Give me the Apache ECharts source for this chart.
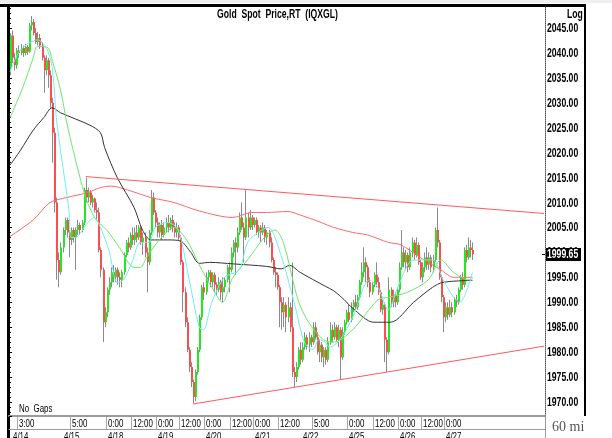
<!DOCTYPE html>
<html>
<head>
<meta charset="utf-8">
<script src="https://cdn.jsdelivr.net/npm/echarts@6/dist/echarts.min.js"></script>
<style>
  html, body { margin: 0; padding: 0; background: #fff; }
  #main { width: 612px; height: 438px; }
</style>
</head>
<body>
<div id="main"></div>
<script>
// 60 minute candles, one per slot: [open, close, low, high]
var candles = [
  [2037.0,2043.5,2035.5,2044.0],[2043.5,2039.0,2038.0,2044.5],[2039.0,2037.5,2036.5,2040.0],[2037.5,2040.5,2036.8,2041.0],
  [2040.5,2040.0,2039.0,2041.5],[2040.0,2041.0,2039.5,2041.8],[2041.0,2040.0,2039.2,2041.5],[2040.0,2041.2,2039.5,2041.8],
  [2041.2,2040.3,2039.6,2041.6],[2040.3,2045.5,2040.0,2046.0],[2045.5,2046.2,2044.5,2047.4],[2046.2,2044.0,2043.5,2046.8],
  [2044.0,2042.2,2041.8,2045.0],[2042.2,2043.0,2041.5,2044.2],[2043.0,2041.5,2040.8,2043.8],[2041.5,2039.0,2038.5,2042.2],
  [2039.0,2036.5,2032.0,2039.5],[2036.5,2038.5,2035.5,2039.5],[2038.5,2035.5,2033.0,2039.0],[2035.5,2030.0,2029.0,2036.5],
  [2030.0,2024.0,2018.0,2031.0],[2024.0,2010.0,2008.0,2025.0],[2010.0,1998.5,1994.5,2011.0],[1998.5,1996.0,1993.0,2000.0],
  [1996.0,2001.0,1995.5,2002.0],[2001.0,2004.5,2000.0,2005.0],[2004.5,2006.5,2003.5,2007.0],[2006.5,2004.0,2003.0,2007.0],
  [2004.0,2002.5,1999.0,2004.5],[2002.5,2004.5,2001.5,2005.0],[2004.5,2003.0,2002.0,2005.0],[2003.0,2004.5,1996.5,2005.0],
  [2004.5,2005.5,2003.5,2006.5],[2005.5,2004.5,2003.5,2006.0],[2004.5,2006.0,2004.0,2006.5],[2006.0,2012.5,2005.5,2013.0],
  [2012.5,2011.0,2010.0,2015.0],[2011.0,2012.0,2010.0,2013.0],[2012.0,2010.0,2009.5,2012.5],[2010.0,2010.8,2009.0,2011.5],
  [2010.8,2008.5,2008.0,2011.0],[2008.5,2008.0,2006.5,2010.0],[2008.0,2000.5,2000.0,2009.0],[2000.5,1996.5,1995.0,2001.0],
  [1996.5,1986.0,1982.0,1997.0],[1986.0,1988.0,1985.0,1989.0],[1988.0,1992.5,1987.0,1993.0],[1992.5,1994.0,1991.5,1995.0],
  [1994.0,1996.0,1993.0,1997.0],[1996.0,1995.0,1994.0,1997.5],[1995.0,1996.5,1994.0,1997.0],[1996.5,1995.0,1993.5,1997.0],
  [1995.0,1994.5,1993.0,1996.0],[1994.5,1996.0,1993.0,1996.5],[1996.0,1999.5,1995.5,2000.0],[1999.5,2002.0,1999.0,2002.5],
  [2002.0,2001.0,2000.0,2003.0],[2001.0,2003.5,2000.5,2004.0],[2003.5,2002.5,2001.5,2005.0],[2002.5,2004.0,2001.5,2005.0],
  [2004.0,2003.0,2002.0,2005.5],[2003.0,2005.0,2002.5,2005.5],[2005.0,2002.0,2001.5,2005.5],[2002.0,2003.0,1999.5,2004.0],
  [2003.0,2000.0,1999.0,2004.0],[2000.0,1998.0,1992.0,2001.0],[1998.0,2004.0,1997.5,2004.5],[2004.0,2011.0,2003.5,2012.5],
  [2011.0,2008.0,2007.5,2012.0],[2008.0,2006.0,2005.0,2008.5],[2006.0,2004.0,2003.0,2007.0],[2004.0,2005.5,2003.0,2006.0],
  [2005.5,2003.5,2002.5,2006.5],[2003.5,2005.0,2003.0,2006.0],[2005.0,2006.0,2004.0,2007.0],[2006.0,2005.0,2004.0,2007.5],
  [2005.0,2006.5,2004.5,2007.0],[2006.5,2005.0,2004.0,2007.5],[2005.0,2004.0,2003.0,2006.0],[2004.0,2005.0,2003.0,2006.0],
  [2005.0,2003.0,2002.5,2005.5],[2003.0,1998.0,1997.5,2003.5],[1998.0,1992.0,1988.0,1998.5],[1992.0,1986.0,1985.0,1993.0],
  [1986.0,1980.5,1980.0,1987.0],[1980.5,1977.0,1976.0,1981.0],[1977.0,1974.0,1973.0,1978.0],[1974.0,1971.0,1969.8,1974.5],
  [1971.0,1976.0,1970.2,1976.5],[1976.0,1980.5,1975.5,1981.0],[1980.5,1987.0,1980.0,1987.5],[1987.0,1993.0,1986.5,1993.5],
  [1993.0,1992.0,1990.5,1994.0],[1992.0,1995.0,1991.5,1996.0],[1995.0,1996.0,1994.0,1996.5],[1996.0,1994.0,1993.0,1996.5],
  [1994.0,1995.5,1993.0,1996.0],[1995.5,1993.5,1992.0,1996.0],[1993.5,1992.5,1991.5,1994.0],[1992.5,1994.0,1992.0,1995.0],
  [1994.0,1992.0,1990.5,1994.5],[1992.0,1993.0,1990.0,1995.0],[1993.0,1994.5,1992.0,1995.0],[1994.5,1997.0,1994.0,1997.5],
  [1997.0,1996.5,1992.0,1998.0],[1996.5,2000.0,1996.0,2001.0],[2000.0,2002.0,1999.0,2002.5],[2002.0,2001.0,1995.5,2003.0],
  [2001.0,2004.0,2000.0,2005.0],[2004.0,2007.0,2003.5,2008.0],[2007.0,2005.0,2004.5,2010.0],[2005.0,2003.0,1998.0,2006.0],
  [2003.0,2007.0,2002.5,2012.5],[2007.0,2005.0,2003.0,2008.0],[2005.0,2007.0,2004.5,2008.5],[2007.0,2005.5,2004.5,2007.5],
  [2005.5,2006.5,2005.0,2007.0],[2006.5,2004.0,2003.5,2007.0],[2004.0,2005.0,2003.0,2005.5],[2005.0,2004.0,2002.0,2005.5],
  [2004.0,2005.0,2003.5,2006.0],[2005.0,2003.0,2002.0,2005.5],[2003.0,2004.0,2001.5,2004.5],[2004.0,2002.0,2001.0,2004.5],
  [2002.0,1998.5,1998.0,2003.0],[1998.5,1996.0,1995.5,1999.0],[1996.0,1995.5,1993.0,1997.0],[1995.5,1993.0,1992.5,1996.0],
  [1993.0,1990.0,1985.0,1993.5],[1990.0,1988.0,1984.5,1991.0],[1988.0,1989.5,1985.0,1991.0],[1989.5,1987.0,1984.0,1990.0],
  [1987.0,1989.0,1986.0,1991.0],[1989.0,1985.0,1984.0,1990.0],[1985.0,1976.0,1975.0,1998.0],[1976.0,1975.0,1973.0,1977.0],
  [1975.0,1977.0,1974.0,1978.0],[1977.0,1980.5,1976.5,1981.0],[1980.5,1978.5,1977.5,1982.0],[1978.5,1981.0,1978.0,1982.0],
  [1981.0,1983.0,1980.5,1984.0],[1983.0,1981.5,1980.5,1983.5],[1981.5,1983.0,1980.0,1984.0],[1983.0,1982.0,1981.0,1983.5],
  [1982.0,1985.0,1981.5,1986.0],[1985.0,1983.0,1982.5,1986.0],[1983.0,1980.0,1979.5,1984.0],[1980.0,1981.5,1978.0,1982.5],
  [1981.5,1979.0,1978.0,1982.0],[1979.0,1980.5,1977.0,1981.0],[1980.5,1978.5,1977.5,1981.0],[1978.5,1982.0,1978.0,1983.0],
  [1982.0,1984.5,1981.5,1986.0],[1984.5,1983.0,1982.0,1985.5],[1983.0,1985.0,1982.5,1986.0],[1985.0,1982.5,1982.0,1985.5],
  [1982.5,1984.5,1981.0,1985.5],[1984.5,1979.0,1974.5,1985.0],[1979.0,1984.0,1978.5,1985.0],[1984.0,1986.0,1983.5,1986.5],
  [1986.0,1988.0,1985.5,1988.5],[1988.0,1986.5,1986.0,1989.5],[1986.5,1989.0,1986.0,1990.0],[1989.0,1990.0,1988.0,1990.5],
  [1990.0,1989.0,1988.5,1991.5],[1989.0,1991.0,1988.5,1991.5],[1991.0,1994.0,1990.5,1994.5],[1994.0,1996.0,1993.5,1998.0],
  [1996.0,1998.0,1995.0,2001.0],[1998.0,1997.0,1994.0,1999.0],[1997.0,1994.0,1993.0,1997.5],[1994.0,1992.0,1991.0,1995.0],
  [1992.0,1993.5,1991.5,1994.0],[1993.5,1995.5,1993.0,1996.0],[1995.5,1994.0,1993.0,1998.0],[1994.0,1992.0,1991.5,1995.0],
  [1992.0,1988.5,1988.0,1992.5],[1988.5,1989.5,1987.5,1990.5],[1989.5,1982.5,1978.0,1990.0],[1982.5,1980.0,1976.0,1983.0],
  [1980.0,1992.5,1979.5,1995.0],[1992.5,1990.0,1989.0,1993.0],[1990.0,1991.5,1989.0,1992.5],[1991.5,1990.0,1989.0,1992.0],
  [1990.0,1992.5,1989.5,1993.0],[1992.5,1997.0,1992.0,1998.0],[1997.0,2000.0,1996.5,2004.5],[2000.0,1998.0,1997.0,2001.0],
  [1998.0,1999.5,1996.5,2000.5],[1999.5,1997.0,1996.0,2000.0],[1997.0,2000.0,1996.5,2001.0],[2000.0,2002.0,1999.0,2003.0],
  [2002.0,1999.5,1998.5,2002.5],[1999.5,2001.5,1999.0,2003.0],[2001.5,1998.0,1997.5,2002.0],[1998.0,1995.0,1994.5,1998.5],
  [1995.0,1997.0,1994.0,1998.0],[1997.0,1999.0,1996.0,2000.0],[1999.0,1997.5,1996.5,2001.0],[1997.5,1999.0,1996.5,2000.0],
  [1999.0,1997.0,1996.0,1999.5],[1997.0,1998.5,1996.0,1999.5],[1998.5,2004.5,1998.0,2005.0],[2004.5,2002.0,2001.0,2009.0],
  [2002.0,1995.0,1994.5,2002.5],[1995.0,1991.0,1990.0,1995.5],[1991.0,1987.0,1984.0,1991.5],[1987.0,1989.0,1986.0,1990.0],
  [1989.0,1987.5,1986.5,1990.0],[1987.5,1989.0,1987.0,1990.5],[1989.0,1988.0,1987.0,1990.0],[1988.0,1990.5,1987.5,1991.0],
  [1990.5,1990.0,1989.0,1991.5],[1990.0,1992.5,1989.5,1993.0],[1992.5,1995.0,1992.0,1995.5],[1995.0,1993.5,1992.5,1996.0],
  [1993.5,2000.5,1993.0,2001.0],[2000.5,1999.0,1998.0,2001.5],[1999.0,2001.0,1998.5,2003.0],[2001.0,2000.5,1999.0,2002.5],
  [2000.5,1999.65,1998.5,2002.0]
];

// moving averages: [slot, value]
var maFast = [[0,2036.2],[5,2040.6],[13,2042.6],[17,2041.2],[20,2037.2],[22,2027],[24,2020.5],[28,2008.5],[29,2003],
  [31,2003],[37,2006],[40,2007],[42,2006],[47,2000.5],[51,1994],[54,1994.5],[58,1998],[62,2002],[66,2002],[69,2005],
  [75,2006],[80,2004.5],[85,1995],[90,1985],[92,1984.5],[96,1990],[102,1995],[109,1996.5],[113,2002],[118,2004],
  [123,2005],[126,2003],[131,1996.5],[136,1988.5],[140,1982],[144,1980.5],[147,1982.5],[150,1982],[152,1981],
  [157,1982.5],[163,1987],[171,1994.5],[175,1993],[180,1988.5],[184,1992.5],[190,1998],[195,1998.5],[201,1998.5],
  [206,1994.5],[211,1991],[214,1990],[220,1996]];
var maGreen = [[0,2027],[6,2033],[11,2039],[13,2041.3],[18,2041],[20,2038.6],[24,2032.6],[27,2026],[30,2020.5],
  [36,2011],[41,2006.5],[46,2004.5],[52,2001],[59,1997],[62,1997],[65,1999],[71,2002.5],[78,2005],[84,2002.5],
  [90,1997.5],[96,1993],[101,1990],[106,1995],[113,1998.5],[121,2003],[126,2004.5],[130,2002],[137,1990.5],
  [142,1986],[149,1982.5],[154,1982],[163,1984.5],[175,1990.5],[180,1991],[189,1992],[199,1994.5],[205,1998.5],
  [211,1996],[218,1994.5],[220,1994.7]];
var maBlack = [[0,2017.5],[5,2020.5],[11,2024.5],[16,2027],[20,2029],[24,2028],[38,2025.5],[43,2024],[45,2021],
  [51,2015],[59,2009],[63,2004.5],[67,2002.5],[75,2002.5],[81,2002.3],[86,2000],[90,1997.8],[95,1998],[106,1997.7],
  [122,1997.2],[129,1996.7],[133,1997.4],[138,1996],[150,1993.2],[154,1992.3],[159,1990.5],[163,1988.8],[173,1986],
  [181,1986],[192,1990],[201,1993],[206,1994],[220,1994.4]];
var maRed = [[0,2003.2],[11,2006.5],[19,2010],[27,2011],[37,2012],[43,2013],[48,2013.3],[56,2012.5],[67,2011],
  [78,2010],[90,2008.3],[106,2007],[115,2008],[122,2008],[132,2008.2],[138,2007.5],[148,2006],[154,2005],
  [163,2004],[170,2003.5],[180,2002],[186,2001.5],[195,1999],[205,1996.5],[211,1995],[220,1995]];

// trend lines
var upperTrend = [[36,2015.2],[254,2007.8]];
var lowerTrend = [[87,1969.6],[254,1981.2]];

// axes: slots, tick labels
var slotCount = 255;
var priceTicks = [1970,1975,1980,1985,1990,1995,2000,2005,2010,2015,2020,2025,2030,2035,2040,2045];
var timeTicks = [[4,'3:00'],[29,'5:00'],[46,'0:00'],[58,'12:00'],[70,'0:00'],[81,'12:00'],[93,'0:00'],[105,'12:00'],
  [116,'0:00'],[128,'12:00'],[144,'5:00'],[161,'0:00'],[173,'12:00'],[185,'0:00'],[196,'12:00'],[207,'0:00']];
var dateTicks = [[1,'4/14'],[25,'4/15'],[46,'4/18'],[70,'4/19'],[93,'4/20'],[116,'4/21'],[139,'4/22'],[161,'4/25'],
  [185,'4/26'],[207,'4/27']];
var priceMin = 1967.2, priceMax = 2049.4;

// no narrow font installed: squeeze Liberation Sans horizontally
var SANS = '"Liberation Sans", Arial, sans-serif';
var SQUEEZE = 0.72;

var categories = [];
for (var k = 0; k < slotCount; k++) categories.push(k);

var candleData = candles.map(function (c, i) { return [i, c[0], c[1], c[2], c[3]]; });
var lastClose = candles[candles.length - 1][1];

function narrowText(x, y, text, font, fill, vAlign) {
  return { type: 'text', x: x, y: y, scaleX: SQUEEZE,
    style: { text: text, font: font, fill: fill, align: 'left', verticalAlign: vAlign || 'middle' } };
}

function renderCandle(params, api) {
  var i = api.value(0);
  var top = api.coord([i, api.value(4)]);
  var bot = api.coord([i, api.value(3)]);
  var po = api.coord([i, api.value(1)]);
  var pc = api.coord([i, api.value(2)]);
  var x = Math.round(top[0]);
  var y1 = Math.min(po[1], pc[1]);
  var h = Math.max(1, Math.abs(po[1] - pc[1]));
  var up = api.value(2) >= api.value(1);
  return {
    type: 'group',
    children: [
      { type: 'line', shape: { x1: x + 0.5, y1: top[1], x2: x + 0.5, y2: bot[1] },
        style: { stroke: '#8a8a8a', lineWidth: 1 } },
      { type: 'rect', shape: { x: x, y: y1, width: 2, height: h },
        style: { fill: up ? '#22e822' : '#ff4c4c' } }
    ]
  };
}

// price labels right of the plot
function renderPriceLabel(params, api) {
  var v = api.value(1);
  var p = api.coord([slotCount - 1, v]);
  var edge = p[0] + api.size([1, 0])[0] / 2;
  return narrowText(edge + 2, Math.round(p[1]) + 0.5, v.toFixed(2), 'bold 12px ' + SANS, '#000');
}

// last price box
function renderLastPrice(params, api) {
  var v = api.value(1);
  var p = api.coord([slotCount - 1, v]);
  var edge = p[0] + api.size([1, 0])[0] / 2;
  var y = Math.round(p[1]);
  return {
    type: 'group',
    children: [
      { type: 'rect', shape: { x: edge + 1, y: y - 6, width: 35, height: 13 }, style: { fill: '#000' } },
      { type: 'line', shape: { x1: edge - 3, y1: y + 0.5, x2: edge, y2: y + 0.5 }, style: { stroke: '#000', lineWidth: 1 } },
      narrowText(edge + 2, y + 1, v.toFixed(2), 'bold 12px ' + SANS, '#fff')
    ]
  };
}

// time row (with separators) and date row under the plot
function axisRowRenderer(ticks, row) {
  return function (params, api) {
    var p = api.coord([api.value(0), priceMin]);
    var left = Math.round(p[0] - api.size([1, 0])[0] / 2);
    var base = Math.round(p[1]);
    var kids = [];
    if (row === 0) {
      kids.push({ type: 'line', shape: { x1: left + 0.5, y1: base + 1, x2: left + 0.5, y2: base + 13 },
        style: { stroke: '#a8a8a8', lineWidth: 1 } });
    }
    kids.push(narrowText(left + 2, base + (row === 0 ? 2 : 15), ticks[params.dataIndex][1],
      '11px ' + SANS, '#000', 'top'));
    return { type: 'group', children: kids };
  };
}

function maSeries(data, color) {
  return {
    type: 'line', data: data, smooth: 0.3, symbol: 'none', silent: true, z: 3,
    lineStyle: { color: color, width: 1 }
  };
}

var chart = echarts.init(document.getElementById('main'));
chart.setOption({
  animation: false,
  backgroundColor: '#fff',
  grid: { left: 9, right: 67, top: 6, bottom: 22 },
  xAxis: [{
    type: 'category', data: categories, boundaryGap: true, position: 'bottom',
    axisLine: { lineStyle: { color: '#9a9a9a', width: 2 } },
    axisTick: { show: false }, axisLabel: { show: false }, splitLine: { show: false }
  }, {
    type: 'category', data: categories, boundaryGap: true, position: 'bottom', offset: 13,
    axisLine: { lineStyle: { color: '#9a9a9a', width: 1 } },
    axisTick: { show: false }, axisLabel: { show: false }, splitLine: { show: false }
  }],
  yAxis: [{
    type: 'value', position: 'right', min: priceMin, max: priceMax, splitNumber: 16,
    axisLine: { show: true, lineStyle: { color: '#555', type: 'dotted', width: 1 } },
    axisTick: { show: false }, axisLabel: { show: false }, splitLine: { show: false }
  }, {
    type: 'value', position: 'left', min: priceMin, max: priceMax, splitNumber: 16,
    axisLine: { show: false },
    axisTick: { show: true, inside: true, length: 3, lineStyle: { color: '#000' } },
    minorTick: { show: true, splitNumber: 5, length: 2, lineStyle: { color: '#000' } },
    axisLabel: { show: false }, splitLine: { show: false }
  }],
  series: [
    maSeries(maRed, '#ff6a6a'),
    maSeries(maBlack, '#333333'),
    maSeries(maGreen, '#6be86b'),
    maSeries(maFast, '#6ff0f0'),
    { type: 'line', data: upperTrend, symbol: 'none', silent: true, z: 3, lineStyle: { color: '#ff5a5a', width: 1 } },
    { type: 'line', data: lowerTrend, symbol: 'none', silent: true, z: 3, lineStyle: { color: '#ff5a5a', width: 1 } },
    { type: 'custom', renderItem: renderCandle, data: candleData, z: 2, encode: { x: 0, y: [1, 2, 3, 4] } },
    { type: 'custom', renderItem: renderPriceLabel, clip: false, silent: true, z: 5,
      data: priceTicks.map(function (v) { return [slotCount - 1, v]; }) },
    { type: 'custom', renderItem: renderLastPrice, clip: false, silent: true, z: 6,
      data: [[slotCount - 1, lastClose]] },
    { type: 'custom', renderItem: axisRowRenderer(timeTicks, 0), clip: false, silent: true, z: 5,
      data: timeTicks.map(function (t) { return [t[0], priceMin]; }) },
    { type: 'custom', renderItem: axisRowRenderer(dateTicks, 1), clip: false, silent: true, z: 5,
      data: dateTicks.map(function (t) { return [t[0], priceMin]; }) }
  ],
  graphic: [
    { type: 'rect', shape: { x: 0, y: 0, width: 612, height: 3 }, style: { fill: '#eeeeee' }, silent: true },
    { type: 'rect', shape: { x: 0, y: 4, width: 586, height: 3 }, style: { fill: '#000' }, silent: true },
    { type: 'rect', shape: { x: 7, y: 4, width: 3, height: 434 }, style: { fill: '#000' }, silent: true },
    { type: 'rect', shape: { x: 584, y: 4, width: 2, height: 412 }, style: { fill: '#000' }, silent: true },
    { type: 'line', shape: { x1: 545.5, y1: 416, x2: 545.5, y2: 438 }, style: { stroke: '#9a9a9a', lineWidth: 1 }, silent: true },
    { type: 'text', x: 217, y: 9, scaleX: SQUEEZE, silent: true,
      style: { text: 'Gold  Spot  Price,RT  (IQXGL)', font: 'bold 12px ' + SANS, fill: '#000' } },
    { type: 'text', x: 567, y: 9, scaleX: SQUEEZE, silent: true,
      style: { text: 'Log', font: 'bold 12px ' + SANS, fill: '#000' } },
    { type: 'text', x: 19, y: 403, scaleX: SQUEEZE, silent: true,
      style: { text: 'No  Gaps', font: '11px ' + SANS, fill: '#000' } },
    { type: 'text', x: 552, y: 420, silent: true,
      style: { text: '60 mi', font: '14px "Liberation Serif", "DejaVu Serif", serif', fill: '#555' } }
  ]
});
</script>
</body>
</html>
